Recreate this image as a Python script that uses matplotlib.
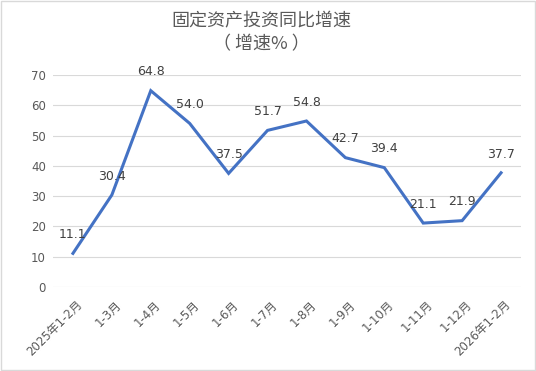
import matplotlib.pyplot as plt
import matplotlib.transforms as mtransforms
import numpy as np

plt.rcParams['font.family'] = ['DejaVu Sans', 'Noto Sans CJK SC']

months = ['2025年1-2月', '1-3月', '1-4月', '1-5月', '1-6月', '1-7月', '1-8月',
          '1-9月', '1-10月', '1-11月', '1-12月', '2026年1-2月']
growth = [11.1, 30.4, 64.8, 54.0, 37.5, 51.7, 54.8, 42.7, 39.4, 21.1, 21.9, 37.7]

grey = '#595959'

fig = plt.figure(figsize=(5.36, 3.71), dpi=100)
ax = fig.add_axes([0.0998, 0.2264, 0.8713, 0.5716])

x = np.arange(len(months))
ax.plot(x, growth, color='#4472C4', linewidth=2.2, solid_joinstyle='miter', zorder=3)

for xi, v in zip(x, growth):
    ax.annotate(f'{v:.1f}', (xi, v), xytext=(0, 13.5), textcoords='offset points',
                ha='center', va='center', fontsize=9, color='#404040', zorder=4)

ax.set_xlim(-0.5, len(months) - 0.5)
ax.set_ylim(0, 70)
ax.set_yticks(range(0, 71, 10))
ax.yaxis.grid(True, color='#D9D9D9', linewidth=0.8)
ax.set_axisbelow(True)
for s in ax.spines.values():
    s.set_visible(False)
ax.tick_params(axis='both', length=0, colors=grey, labelsize=8.5)
ax.tick_params(axis='y', pad=5.5)
ax.tick_params(axis='x', pad=8)
ax.set_xticks(x)
ax.set_xticklabels(months, rotation=45, ha='right', va='top', rotation_mode='anchor')
shift = mtransforms.ScaledTranslation(3 / 100, 0, fig.dpi_scale_trans)
for lab in ax.get_xticklabels():
    lab.set_transform(lab.get_transform() + shift)

fig.text(0.487, 0.942, '固定资产投资同比增速', ha='center', va='center', fontsize=13,
         color=grey, family='Noto Sans CJK SC')
fig.text(0.487, 0.880, '（ 增速% ）', ha='center', va='center', fontsize=13,
         color=grey, family='Noto Sans CJK SC')

# light frame around the chart
fig.patches.append(plt.Rectangle((0.002, 0.003), 0.996, 0.994, transform=fig.transFigure,
                                 fill=False, edgecolor='#D9D9D9', linewidth=1))

fig.savefig('out.png', dpi=100)
